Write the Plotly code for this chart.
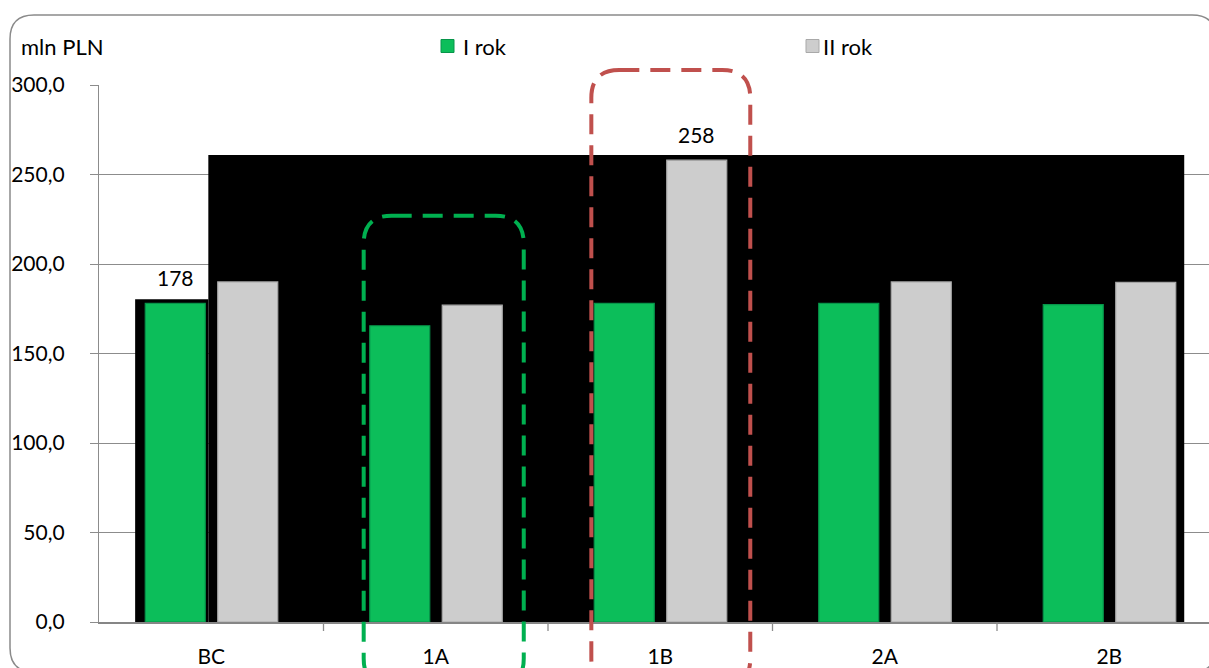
import plotly.graph_objects as go

# --- data -------------------------------------------------------------
categories = ["BC", "1A", "1B", "2A", "2B"]
rok_1 = [178, 165.5, 178, 178, 177.3]
rok_2 = [190, 177, 258, 190, 189.8]
series_names = ["I rok", "II rok"]
y_ticks = [0, 50, 100, 150, 200, 250, 300]
value_labels = {("I rok", "BC"): "178", ("II rok", "1B"): "258"}

# --- geometry ---------------------------------------------------------
W, H = 1209, 668
ML, MR, MT, MB = 99, 0, 85, 46
plot_w = W - ML - MR
plot_h = H - MT - MB
cat_px = 224.5                      # width of one category slot in px
x_lo = -0.5
x_hi = x_lo + plot_w / cat_px
y_lo, y_hi = 0, 300

bar_w = 60 / cat_px
offs = {"I rok": -36 / cat_px, "II rok": 36.5 / cat_px}
colors = {"I rok": "#0CBE5A", "II rok": "#CDCDCD"}
edges = {"I rok": "#07954A", "II rok": "#A9A9A9"}

FONT = "Lato, Carlito, 'Open Sans', sans-serif"
FS = 21


def px_x(px):
    return (px - ML) / plot_w


def px_y(py):
    return (H - MB - py) / plot_h


def dx(v):
    return (v - x_lo) / (x_hi - x_lo)


def dy(v):
    return (v - y_lo) / (y_hi - y_lo)


def rounded_path(x0, y0, x1, y1, r):
    """Rounded rectangle in paper coords; x0<x1, y0<y1 (y up), r in px."""
    rx = r / plot_w
    ry = r / plot_h
    return (
        f"M{x0 + rx},{y1} L{x1 - rx},{y1} Q{x1},{y1} {x1},{y1 - ry} "
        f"L{x1},{y0 + ry} Q{x1},{y0} {x1 - rx},{y0} "
        f"L{x0 + rx},{y0} Q{x0},{y0} {x0},{y0 + ry} "
        f"L{x0},{y1 - ry} Q{x0},{y1} {x0 + rx},{y1} Z"
    )


fig = go.Figure()
xs = list(range(len(categories)))
for name, vals in zip(series_names, [rok_1, rok_2]):
    fig.add_trace(go.Bar(
        x=xs, y=vals, name=name,
        width=bar_w, offset=offs[name] - bar_w / 2,
        marker=dict(color=colors[name], line=dict(color=edges[name], width=1.2)),
        showlegend=False, hoverinfo="skip",
    ))

shapes = []
# dark backdrop panels behind the bars
shapes.append(dict(type="rect", xref="x", yref="y", layer="between",
                   x0=-0.339, x1=-0.013, y0=0, y1=180.3,
                   fillcolor="black", line=dict(width=0)))
shapes.append(dict(type="rect", xref="x", yref="y", layer="between",
                   x0=-0.013, x1=4.334, y0=0, y1=260.9,
                   fillcolor="black", line=dict(width=0)))

# dashed highlight boxes (1A green, 1B red)
for (xa, xb, top, col) in [(0.679, 1.392, 227, "#00B050"),
                           (1.693, 2.401, 308.4, "#C0504D")]:
    shapes.append(dict(type="path", xref="paper", yref="paper", layer="above",
                       path=rounded_path(dx(xa), dy(-36), dx(xb), dy(top), 28),
                       line=dict(color=col, width=4, dash="20px,11px")))

# outer chart frame
shapes.append(dict(type="path", xref="paper", yref="paper", layer="above",
                   path=rounded_path(px_x(10), px_y(672), px_x(1216), px_y(15), 24),
                   line=dict(color="#8A8A8A", width=1.5)))

# legend squares
legend_items = [("I rok", 441, 461), ("II rok", 806, 821)]
annotations = []
for name, sq_x, tx in legend_items:
    shapes.append(dict(type="rect", xref="paper", yref="paper", layer="above",
                       x0=px_x(sq_x), x1=px_x(sq_x + 13),
                       y0=px_y(52.5), y1=px_y(39.5),
                       fillcolor=colors[name], line=dict(color=edges[name], width=1)))
    annotations.append(dict(xref="paper", yref="paper", x=px_x(tx), y=px_y(46),
                            text=name, showarrow=False, xanchor="left",
                            yanchor="middle", font=dict(size=FS + 1, color="black")))

# axis unit title
annotations.append(dict(xref="paper", yref="paper", x=px_x(19), y=px_y(47),
                        text="mln PLN", showarrow=False, xanchor="left",
                        yanchor="middle", font=dict(size=FS + 1, color="black")))

# value labels above selected bars
for name, vals in zip(series_names, [rok_1, rok_2]):
    for i, cat in enumerate(categories):
        lab = value_labels.get((name, cat))
        if lab:
            annotations.append(dict(xref="x", yref="y", x=i + offs[name], y=vals[i],
                                    text=lab, showarrow=False, yanchor="bottom",
                                    yshift=11, font=dict(size=FS, color="black")))

fig.update_layout(
    width=W, height=H,
    margin=dict(l=ML, r=MR, t=MT, b=MB, pad=0),
    paper_bgcolor="white", plot_bgcolor="white",
    font=dict(family=FONT, size=FS, color="black"),
    separators=", ",
    barmode="overlay",
    shapes=shapes, annotations=annotations,
    xaxis=dict(
        range=[x_lo, x_hi], tickmode="array", tickvals=xs, ticktext=categories,
        showgrid=False, zeroline=False, showline=True, linecolor="#868686",
        linewidth=2, ticks="", ticklabelstandoff=15,
        tickfont=dict(size=FS),
    ),
    yaxis=dict(
        range=[y_lo, y_hi], tickvals=y_ticks, tickformat=".1f",
        showgrid=True, gridcolor="#8C8C8C", gridwidth=1.3,
        zeroline=False, showline=True, linecolor="#8C8C8C", linewidth=1.3,
        ticks="outside", ticklen=8, tickcolor="#8C8C8C", tickwidth=1.3,
        ticklabelstandoff=21, tickfont=dict(size=FS),
    ),
)

# category boundary tick marks below the x axis
for b in [0.5, 1.5, 2.5, 3.5]:
    fig.add_shape(type="line", xref="x", yref="paper", x0=b, x1=b,
                  y0=px_y(622), y1=px_y(631), line=dict(color="#8C8C8C", width=1.3),
                  layer="above")

fig.write_html("out.html")
